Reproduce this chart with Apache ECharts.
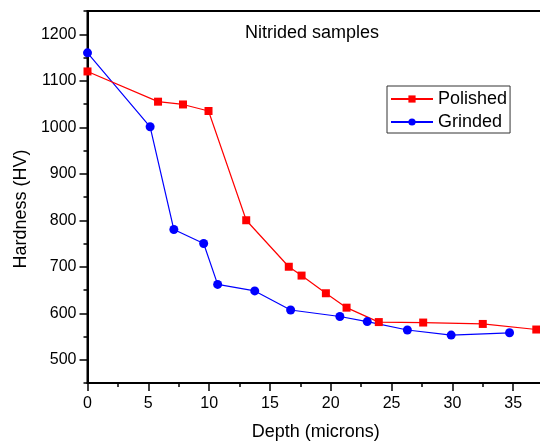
<!DOCTYPE html>
<html>
<head>
<meta charset="utf-8">
<script src="https://cdn.jsdelivr.net/npm/echarts@6/dist/echarts.min.js"></script>
<style>html,body{margin:0;padding:0;background:#fff}#c{width:540px;height:441px}</style>
</head>
<body>
<div id="c"></div>
<script>
const depthPolished = [0, 5.8, 7.85, 9.95, 13.05, 16.55, 17.6, 19.6, 21.3, 23.95, 27.6, 32.5, 36.9];
const hardPolished  = [1120, 1055, 1049, 1035, 800, 700, 681, 643, 612, 581, 580, 577, 565];
const depthGrinded = [0, 5.15, 7.1, 9.55, 10.7, 13.75, 16.7, 20.75, 23.0, 26.3, 29.9, 34.7];
const hardGrinded  = [1160, 1001, 780, 750, 662, 648, 607, 593, 582, 564, 553, 558];
const yTickLabels = [500, 600, 700, 800, 900, 1000, 1100, 1200];
const yMinorTicks = [450, 550, 650, 750, 850, 950, 1050, 1150, 1250];
const xTickLabels = [0, 5, 10, 15, 20, 25, 30, 35, 40];
const seriesNames = ['Polished', 'Grinded'];
const titleText = 'Nitrided samples';
const xName = 'Depth (microns)';
const yName = 'Hardness (HV)';

const FONT = "'Liberation Sans', Arial, sans-serif";
const chart = echarts.init(document.getElementById('c'), null, {renderer: 'canvas'});
const pairs = (xs, ys) => xs.map((x, i) => [x, ys[i]]);
const plain = v => String(v);

chart.setOption({
  animation: false,
  backgroundColor: '#fff',
  title: {
    text: titleText, left: 245, top: 24, padding: 0,
    textStyle: {fontFamily: FONT, fontSize: 18, fontWeight: 'normal', color: '#000'}
  },
  legend: {
    data: seriesNames, orient: 'vertical', left: 387, top: 86,
    padding: [4, 3, 2, 3], itemGap: 5, itemWidth: 42, itemHeight: 9,
    borderColor: '#333', borderWidth: 1,
    textStyle: {fontFamily: FONT, fontSize: 18, lineHeight: 18, color: '#000'}
  },
  grid: {
    left: 87.5, top: 11, width: 486.5, height: 372,
    show: true, borderColor: '#000', borderWidth: 2,
    containLabel: false, outerBoundsMode: 'none'
  },
  xAxis: {
    type: 'value', min: 0, max: 40, interval: 5,
    name: xName, nameLocation: 'middle', nameGap: 40,
    nameTextStyle: {fontFamily: FONT, fontSize: 18, color: '#000', padding: [0, 30, 0, 0]},
    axisLine: {show: true, lineStyle: {color: '#000', width: 2}},
    axisTick: {show: true, length: 8, lineStyle: {color: '#000', width: 1.5}, customValues: xTickLabels},
    minorTick: {show: true, splitNumber: 2, length: 4, lineStyle: {color: '#000', width: 1.5}},
    axisLabel: {fontFamily: FONT, fontSize: 16, color: '#000', margin: 13, customValues: xTickLabels, formatter: plain},
    splitLine: {show: false}
  },
  yAxis: [{
    type: 'value', min: 450, max: 1250, interval: 50,
    name: yName, nameLocation: 'middle', nameGap: 51, nameRotate: 90,
    nameTextStyle: {fontFamily: FONT, fontSize: 18, color: '#000', padding: [0, 24, 0, 0]},
    axisLine: {show: true, lineStyle: {color: '#000', width: 2}},
    axisTick: {show: true, length: 8, lineStyle: {color: '#000', width: 1.5}, customValues: yTickLabels},
    axisLabel: {fontFamily: FONT, fontSize: 16, color: '#000', margin: 11, customValues: yTickLabels, formatter: plain},
    splitLine: {show: false}
  }, {
    type: 'value', min: 450, max: 1250, interval: 50, position: 'left',
    axisLine: {show: false},
    axisTick: {show: true, length: 4, lineStyle: {color: '#000', width: 1.5}, customValues: yMinorTicks},
    axisLabel: {show: false},
    splitLine: {show: false}
  }],
  series: [{
    name: 'Grinded', type: 'line', data: pairs(depthGrinded, hardGrinded),
    symbol: 'circle', symbolSize: 9, color: '#0000ff',
    lineStyle: {width: 1.2, color: '#0000ff'}, itemStyle: {color: '#0000ff'}
  }, {
    name: 'Polished', type: 'line', data: pairs(depthPolished, hardPolished),
    symbol: 'rect', symbolSize: 8, color: '#ff0000',
    lineStyle: {width: 1.2, color: '#ff0000'}, itemStyle: {color: '#ff0000'}
  }]
});
</script>
</body>
</html>
